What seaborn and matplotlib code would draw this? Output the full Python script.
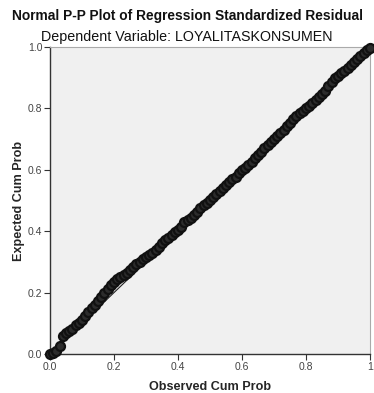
import matplotlib
matplotlib.use("Agg")
import matplotlib.pyplot as plt
import seaborn as sns
import pandas as pd

observed = [0.00, 0.01, 0.02, 0.03, 0.04, 0.05, 0.06, 0.07, 0.08, 0.09,
            0.10, 0.11, 0.12, 0.13, 0.14, 0.15, 0.16, 0.17, 0.18, 0.19,
            0.20, 0.21, 0.22, 0.23, 0.24, 0.25, 0.26, 0.27, 0.28, 0.29,
            0.30, 0.31, 0.32, 0.33, 0.34, 0.35, 0.36, 0.37, 0.38, 0.39,
            0.40, 0.41, 0.42, 0.43, 0.44, 0.45, 0.46, 0.47, 0.48, 0.49,
            0.50, 0.51, 0.52, 0.53, 0.54, 0.55, 0.56, 0.57, 0.58, 0.59,
            0.60, 0.61, 0.62, 0.63, 0.64, 0.65, 0.66, 0.67, 0.68, 0.69,
            0.70, 0.71, 0.72, 0.73, 0.74, 0.75, 0.76, 0.77, 0.78, 0.79,
            0.80, 0.81, 0.82, 0.83, 0.84, 0.85, 0.86, 0.87, 0.88, 0.89,
            0.90, 0.91, 0.92, 0.93, 0.94, 0.95, 0.96, 0.97, 0.98, 0.99, 1.00]
expected = [0.000, 0.004, 0.010, 0.025, 0.060, 0.068, 0.075, 0.083, 0.093, 0.100,
            0.110, 0.125, 0.138, 0.150, 0.160, 0.172, 0.185, 0.198, 0.212, 0.225,
            0.235, 0.243, 0.250, 0.258, 0.265, 0.274, 0.283, 0.292, 0.300, 0.308,
            0.315, 0.322, 0.330, 0.340, 0.350, 0.360, 0.370, 0.378, 0.388, 0.397,
            0.405, 0.415, 0.430, 0.436, 0.442, 0.452, 0.463, 0.474, 0.484, 0.493,
            0.502, 0.511, 0.520, 0.530, 0.540, 0.550, 0.560, 0.569, 0.578, 0.588,
            0.598, 0.607, 0.616, 0.626, 0.637, 0.648, 0.659, 0.670, 0.680, 0.690,
            0.700, 0.710, 0.720, 0.731, 0.742, 0.753, 0.764, 0.775, 0.785, 0.793,
            0.800, 0.808, 0.816, 0.826, 0.836, 0.846, 0.858, 0.872, 0.886, 0.898,
            0.906, 0.914, 0.922, 0.930, 0.940, 0.950, 0.960, 0.970, 0.980, 0.990, 0.998]
ref_line = [0.0, 1.0]
x_ticks = [0.0, 0.2, 0.4, 0.6, 0.8, 1.0]
x_tick_labels = ["0.0", "0.2", "0.4", "0.6", "0.8", "1"]
y_ticks = [0.0, 0.2, 0.4, 0.6, 0.8, 1.0]
y_tick_labels = ["0.0", "0.2", "0.4", "0.6", "0.8", "1.0"]

title1 = "Normal P-P Plot of Regression Standardized Residual"
title2 = "Dependent Variable: LOYALITASKONSUMEN"

sns.set_style("white")
plt.rcParams['font.family'] = ['Liberation Sans', 'DejaVu Sans']

fig = plt.figure(figsize=(3.74, 3.93), dpi=100)
ax = fig.add_axes([50/374, 39/393, 320/374, 307/393])
ax.set_facecolor("#F0F0F0")

df = pd.DataFrame({"observed": observed, "expected": expected})
sns.lineplot(x=ref_line, y=ref_line, ax=ax, color="#222222", linewidth=0.8)
sns.scatterplot(data=df, x="observed", y="expected", ax=ax, marker="o",
                s=42, facecolor="#2c2c2c", edgecolor="#111111", linewidth=1.6,
                clip_on=False, zorder=3)

ax.set_xlim(0, 1)
ax.set_ylim(0, 1)
ax.set_xticks(x_ticks)
ax.set_xticklabels(x_tick_labels)
ax.set_yticks(y_ticks)
ax.set_yticklabels(y_tick_labels)
ax.tick_params(axis="both", direction="out", length=4, width=0.8,
               color="#333333", labelsize=7.5, labelcolor="#444444", pad=1.5,
               bottom=True, left=True)

for s in ["left", "bottom"]:
    ax.spines[s].set_color("#333333")
    ax.spines[s].set_linewidth(1.0)
for s in ["top", "right"]:
    ax.spines[s].set_color("#aaaaaa")
    ax.spines[s].set_linewidth(0.8)

ax.set_xlabel("Observed Cum Prob", fontsize=9.1, fontweight="bold", labelpad=7)
ax.set_ylabel("Expected Cum Prob", fontsize=9.1, fontweight="bold", labelpad=2)

fig.text(188/374, 1 - 16/393, title1, ha="center", va="center",
         fontsize=9.9, fontweight="bold", color="#111111")
fig.text(187/374, 1 - 37/393, title2, ha="center", va="center",
         fontsize=10.3, color="#111111")

fig.savefig("out.png", dpi=100)
